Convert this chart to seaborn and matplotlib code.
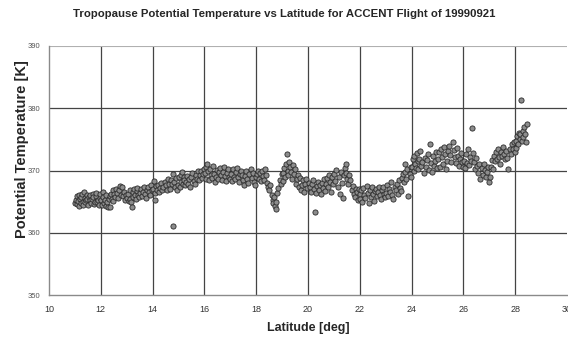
import numpy as np
import pandas as pd
import matplotlib
matplotlib.use("Agg")
import matplotlib.pyplot as plt
import seaborn as sns

lat_11 = [11.02,11.05,11.07,11.10,11.12,11.15,11.17,11.20,11.22,11.25,11.27,11.30,11.32,11.35,11.38,11.40,11.43,11.46,11.48,11.51,11.54,11.57,11.60,11.62,11.65,11.68,11.71,11.74,11.77,11.80,11.83,11.86,11.89,11.92,11.95,11.98]
temp_11 = [364.8,365.3,364.6,365.9,365.1,364.3,366.0,365.4,364.7,365.7,366.3,365.0,364.5,366.6,365.6,364.9,365.3,366.1,365.5,364.4,365.8,365.2,366.0,364.8,365.4,366.3,365.7,364.6,365.0,365.9,366.4,364.9,365.3,364.4,365.6,366.2]
lat_12 = [12.01,12.04,12.07,12.10,12.13,12.16,12.19,12.22,12.25,12.28,12.31,12.34,12.37,12.40,12.43,12.46,12.49,12.52,12.55,12.58,12.62,12.66,12.70,12.74,12.78,12.82,12.86,12.90,12.94,12.98]
temp_12 = [365.2,364.4,366.5,365.8,364.8,365.3,366.0,364.3,365.0,364.1,365.4,364.2,365.9,366.3,365.5,366.8,365.1,366.2,365.7,367.0,366.4,365.6,366.9,367.5,366.1,367.3,365.9,366.6,365.2,366.0]
lat_13 = [13.02,13.05,13.08,13.11,13.14,13.17,13.20,13.23,13.26,13.29,13.32,13.35,13.38,13.41,13.44,13.47,13.50,13.54,13.58,13.62,13.66,13.70,13.74,13.78,13.82,13.86,13.90,13.94,13.98]
temp_13 = [365.6,366.3,365.1,366.8,365.5,364.9,364.2,365.8,366.5,367.1,366.0,365.4,366.7,367.2,366.1,365.7,366.4,367.0,365.9,366.6,367.4,366.2,365.6,366.9,367.3,366.5,366.0,367.6,366.8]
lat_14 = [14.02,14.05,14.08,14.11,14.14,14.18,14.22,14.26,14.30,14.34,14.38,14.42,14.46,14.50,14.54,14.58,14.62,14.66,14.70,14.74,14.77,14.80,14.84,14.88,14.92,14.96,14.99]
temp_14 = [367.0,368.3,366.4,365.3,367.5,366.9,367.7,366.6,367.2,368.0,366.8,367.4,368.2,367.6,366.9,368.6,367.9,367.1,368.4,367.8,361.1,369.5,368.1,367.3,368.8,366.9,367.6]
lat_15 = [15.02,15.05,15.08,15.11,15.14,15.17,15.20,15.23,15.26,15.30,15.34,15.38,15.42,15.46,15.50,15.54,15.58,15.62,15.66,15.70,15.74,15.78,15.82,15.86,15.90,15.94,15.98]
temp_15 = [368.9,367.4,369.3,368.1,369.7,367.8,369.0,368.5,367.6,368.2,369.1,367.9,368.6,367.3,368.9,369.6,368.3,367.8,369.2,368.7,369.9,368.4,369.3,370.0,368.8,369.5,370.2]
lat_16 = [16.02,16.05,16.08,16.11,16.14,16.17,16.20,16.24,16.28,16.32,16.36,16.40,16.44,16.48,16.52,16.56,16.60,16.64,16.68,16.72,16.76,16.80,16.84,16.88,16.92,16.96,16.99]
temp_16 = [369.6,370.5,368.7,371.0,369.9,368.5,370.2,369.3,368.8,370.7,369.5,368.2,369.0,370.1,368.6,369.7,370.4,369.2,368.4,369.8,370.6,369.1,368.3,369.6,370.3,369.0,368.7]
lat_17 = [17.02,17.06,17.10,17.14,17.18,17.22,17.26,17.30,17.34,17.38,17.42,17.46,17.50,17.54,17.58,17.62,17.66,17.70,17.74,17.78,17.82,17.86,17.90,17.94,17.98]
temp_17 = [369.5,368.3,370.2,369.0,368.6,369.8,370.4,368.9,368.1,369.4,370.0,369.2,368.4,367.6,369.1,369.9,368.7,368.0,369.4,370.3,368.8,369.6,368.2,367.7,369.0]
lat_18 = [18.02,18.06,18.10,18.14,18.18,18.22,18.26,18.30,18.34,18.38,18.42,18.46,18.50,18.55,18.60,18.63,18.66,18.69,18.72,18.75,18.78,18.82,18.86,18.90,18.94,18.98]
temp_18 = [369.4,370.0,368.7,369.6,368.3,369.9,369.1,368.5,370.2,369.3,368.0,367.4,366.8,367.6,366.1,365.3,364.8,365.7,364.3,363.8,364.9,366.4,367.2,368.5,367.8,369.4]
lat_19 = [19.02,19.05,19.08,19.11,19.14,19.18,19.21,19.24,19.27,19.30,19.34,19.38,19.42,19.46,19.50,19.54,19.58,19.62,19.66,19.70,19.74,19.78,19.82,19.86,19.90,19.94,19.98]
temp_19 = [368.3,369.6,370.4,368.9,371.1,372.7,370.0,369.2,371.3,370.6,369.8,368.7,370.9,369.4,370.2,367.9,368.6,369.3,367.4,368.8,366.9,367.7,368.4,366.5,367.9,368.6,367.2]
lat_20 = [20.02,20.06,20.10,20.14,20.18,20.22,20.26,20.30,20.34,20.38,20.42,20.46,20.50,20.54,20.58,20.62,20.66,20.70,20.74,20.78,20.82,20.86,20.90,20.94,20.98]
temp_20 = [368.0,367.3,366.6,367.8,368.5,367.1,363.4,366.4,367.5,368.2,366.9,367.7,366.3,368.0,367.2,368.6,366.7,367.9,368.8,367.4,369.2,368.1,366.6,369.0,367.8]
lat_21 = [21.02,21.06,21.10,21.14,21.18,21.22,21.26,21.30,21.34,21.38,21.42,21.45,21.48,21.52,21.56,21.60,21.64,21.68,21.72,21.76,21.80,21.84,21.88,21.92,21.96,21.99]
temp_21 = [369.5,368.3,370.1,367.4,368.9,366.3,369.7,368.0,365.6,369.2,370.4,371.0,369.6,368.7,367.9,369.3,368.4,366.8,367.5,366.2,365.8,367.1,366.5,365.3,367.0,366.3]
lat_22 = [22.02,22.06,22.10,22.14,22.18,22.22,22.26,22.30,22.34,22.38,22.42,22.46,22.50,22.54,22.58,22.62,22.66,22.70,22.74,22.78,22.82,22.86,22.90,22.94,22.98]
temp_22 = [365.4,366.8,364.9,367.2,366.1,365.6,367.5,366.4,364.8,366.9,365.8,367.3,366.2,365.1,366.7,367.0,365.9,366.5,367.4,366.0,365.5,366.9,367.3,366.3,365.8]
lat_23 = [23.02,23.06,23.10,23.14,23.18,23.22,23.26,23.30,23.34,23.38,23.42,23.46,23.50,23.54,23.58,23.62,23.66,23.70,23.73,23.76,23.80,23.84,23.88,23.92,23.96,23.99]
temp_23 = [366.4,367.6,365.9,367.0,366.5,368.2,366.1,365.4,367.3,366.8,367.9,366.3,368.4,367.2,366.7,368.8,369.5,368.1,371.1,369.8,368.6,370.2,365.9,369.4,370.5,369.0]
lat_24 = [24.02,24.05,24.08,24.11,24.14,24.17,24.20,24.23,24.26,24.30,24.34,24.38,24.42,24.46,24.50,24.54,24.58,24.62,24.66,24.70,24.74,24.78,24.82,24.86,24.90,24.94,24.98]
temp_24 = [370.6,371.8,369.9,372.3,371.0,370.4,372.8,371.5,370.2,371.9,373.2,370.8,371.4,369.6,372.0,370.5,371.7,372.6,370.1,374.2,371.2,369.8,372.4,370.7,371.6,373.0,370.4]
lat_25 = [25.02,25.06,25.10,25.14,25.18,25.22,25.26,25.30,25.34,25.38,25.42,25.46,25.50,25.54,25.58,25.62,25.66,25.70,25.74,25.78,25.82,25.86,25.90,25.94,25.98]
temp_25 = [371.8,372.9,370.6,373.5,372.2,371.0,373.8,372.7,370.3,371.6,373.1,374.0,372.5,371.4,374.6,373.3,372.1,371.2,373.6,372.4,370.8,371.9,372.8,371.3,370.5]
lat_26 = [26.02,26.06,26.10,26.14,26.18,26.22,26.26,26.30,26.35,26.38,26.42,26.46,26.50,26.54,26.58,26.62,26.66,26.70,26.74,26.78,26.82,26.86,26.90,26.94,26.98]
temp_26 = [371.6,370.4,372.7,371.2,373.4,370.9,372.1,371.5,376.9,372.8,371.3,370.2,372.0,370.7,369.6,371.1,368.6,370.4,369.2,371.0,370.1,368.9,369.7,370.6,368.1]
lat_27 = [27.02,27.06,27.10,27.14,27.18,27.22,27.26,27.30,27.34,27.38,27.42,27.46,27.50,27.54,27.58,27.62,27.66,27.70,27.74,27.78,27.82,27.86,27.90,27.94,27.98]
temp_27 = [369.0,370.5,371.7,370.2,372.4,371.5,372.9,371.9,373.4,372.2,371.1,373.0,372.4,373.8,372.6,371.8,373.1,372.0,370.3,373.5,372.7,374.2,373.4,374.6,373.0]
lat_28 = [28.02,28.05,28.08,28.11,28.14,28.17,28.20,28.23,28.26,28.29,28.32,28.35,28.38,28.41,28.44]
temp_28 = [374.8,373.6,375.5,374.2,376.1,375.0,375.8,381.3,374.7,376.3,375.4,377.0,375.9,374.5,377.4]

x_ticks = [10, 12, 14, 16, 18, 20, 22, 24, 26, 28, 30]
y_ticks = [350, 360, 370, 380, 390]

lats = (lat_11 + lat_12 + lat_13 + lat_14 + lat_15 + lat_16 + lat_17 + lat_18 + lat_19
        + lat_20 + lat_21 + lat_22 + lat_23 + lat_24 + lat_25 + lat_26 + lat_27 + lat_28)
temps = (temp_11 + temp_12 + temp_13 + temp_14 + temp_15 + temp_16 + temp_17 + temp_18 + temp_19
         + temp_20 + temp_21 + temp_22 + temp_23 + temp_24 + temp_25 + temp_26 + temp_27 + temp_28)
df = pd.DataFrame({"Latitude": lats, "Theta": temps})

sns.set_style("white")
plt.rcParams['font.family'] = ['Liberation Sans', 'DejaVu Sans']

W, H = 568, 337
fig = plt.figure(figsize=(W / 100, H / 100), dpi=100)
ax = fig.add_axes([49/W, 42/H, 518/W, 249/H])

for xv in x_ticks[1:-1]:
    ax.axvline(xv, color='#444444', lw=0.9, zorder=1)
for yv in y_ticks[1:-1]:
    ax.axhline(yv, color='#444444', lw=0.9, zorder=1)
ax.axhline(390, color='#b0b0b0', lw=0.8, zorder=1)

sns.scatterplot(data=df, x="Latitude", y="Theta", ax=ax, s=14,
                color='#8c8c8c', edgecolor='#2a2a2a', linewidth=0.6, zorder=3, legend=False)

ax.set_xlim(10, 30)
ax.set_ylim(350, 390)
ax.set_xticks(x_ticks)
ax.set_yticks(y_ticks)
ax.set_xticklabels([str(v) for v in x_ticks], fontsize=6.5, color='#333333')
ax.set_yticklabels([str(v) for v in y_ticks], fontsize=5.5, color='#555555')
ax.tick_params(axis='x', direction='out', length=4, width=0.8, color='#888888', pad=3)
ax.tick_params(axis='y', direction='out', length=3, width=0.8, color='#888888', pad=3)
for side in ['top', 'right']:
    ax.spines[side].set_visible(False)
for side in ['left', 'bottom']:
    ax.spines[side].set_color('#8a8a8a')
    ax.spines[side].set_linewidth(1.0)

ax.set_xlabel("Latitude [deg]", fontsize=9, fontweight='bold', labelpad=6)
ax.set_ylabel("")
fig.text(22/W, 1 - 149/H, "Potential Temperature [K]", rotation=90, fontsize=10.5,
         fontweight='bold', ha='center', va='center')
fig.text(0.5, 1 - 14/H,
         "Tropopause Potential Temperature vs Latitude for ACCENT Flight of 19990921",
         fontsize=8.2, fontweight='bold', ha='center', va='center',
         family=['Liberation Sans Narrow', 'Liberation Sans', 'DejaVu Sans'])

fig.savefig("out.png", dpi=100)
